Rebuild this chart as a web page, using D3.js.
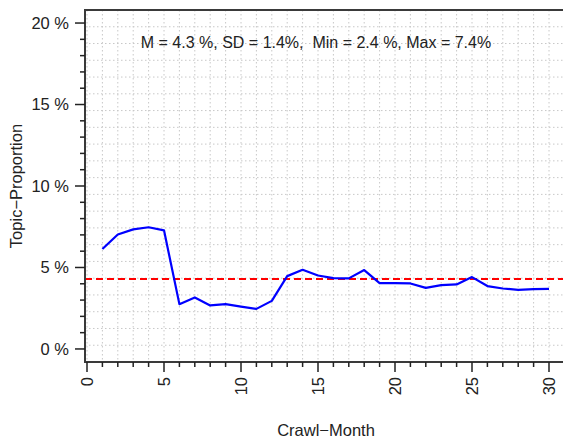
<!DOCTYPE html>
<html><head><meta charset="utf-8">
<script src="https://cdn.jsdelivr.net/npm/d3@7"></script>
<style>
body{margin:0;background:#fff;}
svg{display:block;font-family:"Liberation Sans",Arial,sans-serif;}
</style></head>
<body>
<svg id="chart" width="563" height="439"></svg>
<script>
const months = d3.range(1, 31);
const proportion = [6.13, 7.02, 7.34, 7.47, 7.28, 2.75, 3.16, 2.67, 2.75, 2.6,
  2.46, 2.95, 4.47, 4.86, 4.51, 4.35, 4.33, 4.84, 4.04, 4.04,
  4.02, 3.75, 3.92, 3.96, 4.41, 3.86, 3.71, 3.63, 3.67, 3.69];
const meanValue = 4.3;
const yTicks = [0, 5, 10, 15, 20];
const xTicks = [0, 5, 10, 15, 20, 25, 30];
const statsLabel = "M = 4.3 %, SD = 1.4%,  Min = 2.4 %, Max = 7.4%";

const svg = d3.select("#chart");
const L = 85, T = 10, B = 362, R = 570;
const x = d3.scaleLinear().domain([0, 30]).range([87, 549]);
const y = d3.scaleLinear().domain([-0.8, 20.8]).range([B, T]);
const FS = 16.5;

// grid
const grid = svg.append("g").attr("stroke", "#c8c8c8").attr("stroke-width", 1).attr("stroke-dasharray", "1.5,2.5");
d3.range(0, 32).forEach(m => {
  grid.append("line").attr("x1", x(m)).attr("x2", x(m)).attr("y1", T).attr("y2", B);
});
const ny = 21;
d3.range(1, ny).forEach(k => {
  const yy = T + k * (B - T) / ny;
  grid.append("line").attr("x1", L).attr("x2", R).attr("y1", yy).attr("y2", yy);
});

// mean line
svg.append("line").attr("x1", L).attr("x2", R).attr("y1", y(meanValue)).attr("y2", y(meanValue))
  .attr("stroke", "#ff0000").attr("stroke-width", 2).attr("stroke-dasharray", "7,4");

// data line
svg.append("path").datum(months.map((m, i) => [m, proportion[i]]))
  .attr("fill", "none").attr("stroke", "#0000ff").attr("stroke-width", 2.2)
  .attr("stroke-linejoin", "round")
  .attr("d", d3.line().x(d => x(d[0])).y(d => y(d[1])));

// frame
svg.append("path").attr("d", `M${R},${T}H${L}V${B}H${R}`)
  .attr("fill", "none").attr("stroke", "#3a3a3a").attr("stroke-width", 2);

// y axis ticks
const yAx = svg.append("g").attr("stroke", "#222").attr("stroke-width", 1.5);
d3.range(0, 21).forEach(v => {
  const major = v % 5 === 0;
  yAx.append("line").attr("x1", L - (major ? 10 : 5)).attr("x2", L).attr("y1", y(v)).attr("y2", y(v));
});
svg.append("g").selectAll("text").data(yTicks).join("text")
  .attr("x", 69).attr("y", d => y(d)).attr("dy", "0.35em")
  .attr("text-anchor", "end").attr("font-size", FS).attr("fill", "#222")
  .text(d => d + " %");

// x axis ticks
const xAx = svg.append("g").attr("stroke", "#222").attr("stroke-width", 1.5);
d3.range(0, 31).forEach(m => {
  const major = m % 5 === 0;
  xAx.append("line").attr("x1", x(m)).attr("x2", x(m)).attr("y1", B).attr("y2", B + (major ? 10 : 5));
});
svg.append("g").selectAll("text").data(xTicks).join("text")
  .attr("transform", d => `translate(${x(d)},377) rotate(-90)`)
  .attr("dy", "0.35em").attr("text-anchor", "end").attr("font-size", FS).attr("fill", "#222")
  .text(d => d);

// titles
svg.append("text").attr("transform", `translate(22,${(T + B) / 2}) rotate(-90)`)
  .attr("text-anchor", "middle").attr("font-size", FS).attr("fill", "#222")
  .text("Topic\u2212Proportion");
svg.append("text").attr("x", 326).attr("y", 436)
  .attr("text-anchor", "middle").attr("font-size", FS).attr("fill", "#222")
  .text("Crawl\u2212Month");

svg.append("text").attr("x", 316).attr("y", 47.5)
  .attr("text-anchor", "middle").attr("font-size", 16).attr("fill", "#222")
  .style("white-space", "pre").attr("xml:space", "preserve")
  .text(statsLabel);
</script>
</body></html>
